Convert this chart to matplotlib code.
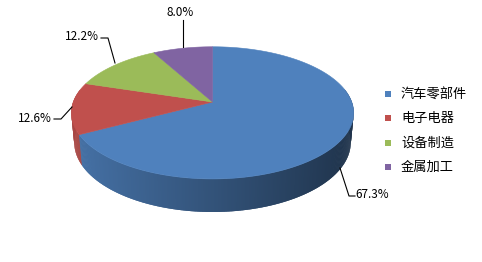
import numpy as np
import matplotlib
matplotlib.use("Agg")
import matplotlib.pyplot as plt
from matplotlib.collections import PolyCollection
from matplotlib.patches import Polygon
import matplotlib.colors as mcolors

plt.rcParams['font.family'] = ['Noto Sans CJK SC', 'DejaVu Sans']

categories = ["汽车零部件", "电子电器", "设备制造", "金属加工"]
shares = [67.3, 12.6, 12.2, 8.0]
colors = ["#4F81BD", "#C0504D", "#9BBB59", "#8064A2"]

W, H = 482, 262
fig = plt.figure(figsize=(W / 100, H / 100), dpi=100)
ax = fig.add_axes([0, 0, 1, 1])
ax.set_xlim(0, W)
ax.set_ylim(H, 0)
ax.axis("off")

# perspective projection of a unit disc
CX, CY = 212.5, 102.0
F, D, E, T = 752.0, 5.40, np.radians(27.5), 0.242
ce, se = np.cos(E), np.sin(E)


def proj(theta, w=0.0, r=1.0):
    u = r * np.sin(theta)
    v = r * np.cos(theta)
    yc = w * ce + v * se
    zc = D + v * ce - w * se
    return CX + F * u / zc, CY - F * yc / zc


fracs = np.array(shares) / np.sum(shares)
bounds = np.concatenate([[0], np.cumsum(fracs)]) * 2 * np.pi

# side walls (back to front), slightly overlapping to avoid seams
polys, fcs, depths = [], [], []
step = np.radians(0.5)
for i in range(len(shares)):
    a0, a1 = bounds[i], bounds[i + 1]
    n = max(2, int(np.ceil((a1 - a0) / step)))
    ts = np.linspace(a0, a1, n + 1)
    base = np.array(mcolors.to_rgb(colors[i]))
    for t0, t1 in zip(ts[:-1], ts[1:]):
        tm = 0.5 * (t0 + t1)
        if np.cos(tm) > 0.2:
            continue
        ov = 0.6 * step
        x0, y0 = proj(t0 - ov)
        x1, y1 = proj(t1 + ov)
        x2, y2 = proj(t1 + ov, -T)
        x3, y3 = proj(t0 - ov, -T)
        xm = 0.5 * (x0 + x1)
        s = 0.88 - 0.48 * (xm - 72) / (354 - 72)
        s = min(max(s, 0.38), 0.9)
        c = np.clip(base * s, 0, 1)
        polys.append([(x0, y0), (x1, y1), (x2, y2), (x3, y3)])
        fcs.append(c)
        depths.append(np.cos(tm))
order = np.argsort(depths)[::-1]
pc = PolyCollection([polys[k] for k in order], facecolors=[fcs[k] for k in order],
                    edgecolors="none", linewidths=0)
ax.add_collection(pc)

# top faces
for i in range(len(shares)):
    a0, a1 = bounds[i], bounds[i + 1]
    ts = np.linspace(a0, a1, 200)
    pts = [(CX, CY)] + [proj(t) for t in ts]
    ax.add_patch(Polygon(pts, closed=True, facecolor=colors[i], edgecolor=colors[i],
                         linewidth=0.4, zorder=3))

# data labels with leader lines
lab_pos = [(355, 194, "left"), (52, 118, "right"), (99, 37, "right"), (180, 13, "center")]
leaders = [
    [(340, 168), (349, 196), (355, 196)],
    [(72, 107), (61, 119), (54, 119)],
    [(115, 63), (108, 38), (101, 38)],
    [(183, 47), (183, 20)],
]
for i, v in enumerate(shares):
    x, y, ha = lab_pos[i]
    ax.text(x, y, f"{v:.1f}%", ha=ha, va="center", fontsize=8.5, color="#000000", zorder=5)
    xs, ys = zip(*leaders[i])
    ax.plot(xs, ys, color="#000000", lw=0.8, zorder=4)

# legend
for i, name in enumerate(categories):
    y = 94 + i * 24.4
    ax.scatter([388], [y], marker="s", s=22, color=colors[i], zorder=5, linewidths=0)
    ax.text(401, y, name, ha="left", va="center", fontsize=9.5, color="#000000", zorder=5)

fig.savefig("out.png", dpi=100, facecolor="white")
